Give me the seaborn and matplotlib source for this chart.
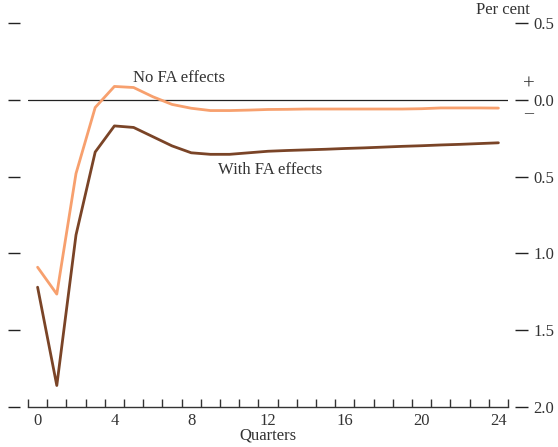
import matplotlib
matplotlib.use("Agg")
import matplotlib.pyplot as plt
import seaborn as sns
import pandas as pd

# Response over 24 quarters, per cent
quarters = list(range(25))
with_fa = [-1.22, -1.86, -0.88, -0.34, -0.17, -0.18, -0.24, -0.30, -0.345, -0.355,
           -0.355, -0.345, -0.335, -0.33, -0.326, -0.322, -0.317, -0.313, -0.308,
           -0.303, -0.299, -0.294, -0.29, -0.285, -0.28]
no_fa = [-1.09, -1.265, -0.48, -0.05, 0.087, 0.08, 0.02, -0.03, -0.055, -0.07,
         -0.07, -0.067, -0.063, -0.062, -0.06, -0.06, -0.06, -0.06, -0.06, -0.06,
         -0.058, -0.053, -0.053, -0.053, -0.054]
series_names = ["No FA effects", "With FA effects"]
series_colors = ["#F7A06E", "#7A4427"]

y_ticks = [0.5, 0.0, -0.5, -1.0, -1.5, -2.0]
y_tick_labels = ["0.5", "0.0", "0.5", "1.0", "1.5", "2.0"]
x_ticks = [0, 4, 8, 12, 16, 20, 24]

df = pd.DataFrame({
    "Quarter": quarters * 2,
    "Value": no_fa + with_fa,
    "Series": [series_names[0]] * len(quarters) + [series_names[1]] * len(quarters),
})

sns.set_style("white")
plt.rcParams["font.family"] = ["Liberation Serif", "DejaVu Serif"]
plt.rcParams["font.size"] = 12

fs = 12
fig = plt.figure(figsize=(5.58, 4.47), dpi=100)
ax = fig.add_axes([28 / 558, 40 / 447, 480 / 558, 384 / 447])

ax.axhline(0, color="#222222", lw=0.9, zorder=1)
sns.lineplot(data=df, x="Quarter", y="Value", hue="Series",
             palette=dict(zip(series_names, series_colors)),
             linewidth=2.0, legend=False, ax=ax, zorder=3)

ax.set_xlim(-0.5, 24.5)
ax.set_ylim(-2.0, 0.5)

# Spines: only the bottom axis line is shown
for side in ["top", "left", "right"]:
    ax.spines[side].set_visible(False)
ax.spines["bottom"].set_color("#333333")
ax.spines["bottom"].set_linewidth(1.0)
ax.spines["left"].set_position(("outward", 6))
ax.spines["right"].set_position(("outward", 5))

# x axis: labels every 4 quarters, tick marks between quarters pointing up
ax.set_xticks(x_ticks)
ax.set_xticks([q + 0.5 for q in range(-1, 25)], minor=True)
ax.tick_params(axis="x", which="major", length=0, pad=4, labelsize=fs, colors="#333333")
ax.tick_params(axis="x", which="minor", direction="in", length=6, width=1.0,
               color="#333333", bottom=True)

# y axis: dash ticks on both sides, labels on the right only
ax.set_yticks(y_ticks)
ax.set_yticklabels(y_tick_labels)
ax.tick_params(axis="y", which="major", direction="out", length=9, width=1.0,
               color="#222222", left=True, right=True, labelleft=False,
               labelright=True, pad=4, labelsize=fs, labelcolor="#333333")

ax.set_xlabel("Quarters", fontsize=fs, color="#333333", labelpad=-1)
ax.set_ylabel("")

ax.text(7.35, 0.14, series_names[0], ha="center", va="center", fontsize=fs, color="#333333")
ax.text(12.1, -0.455, series_names[1], ha="center", va="center", fontsize=fs, color="#333333")

# Sign markers around the zero label
ax.annotate("+", xy=(1, 0.0), xycoords=("axes fraction", "data"),
            xytext=(15, 10.5), textcoords="offset points", ha="center", va="center",
            fontsize=15, color="#333333", annotation_clip=False)
ax.annotate("\u2013", xy=(1, 0.0), xycoords=("axes fraction", "data"),
            xytext=(15, -10), textcoords="offset points", ha="center", va="center",
            fontsize=13, color="#333333", annotation_clip=False)

fig.text(530 / 558, 1 - 10 / 447, "Per cent", ha="right", va="center",
         fontsize=fs, color="#333333")

fig.savefig("out.png", dpi=100)
